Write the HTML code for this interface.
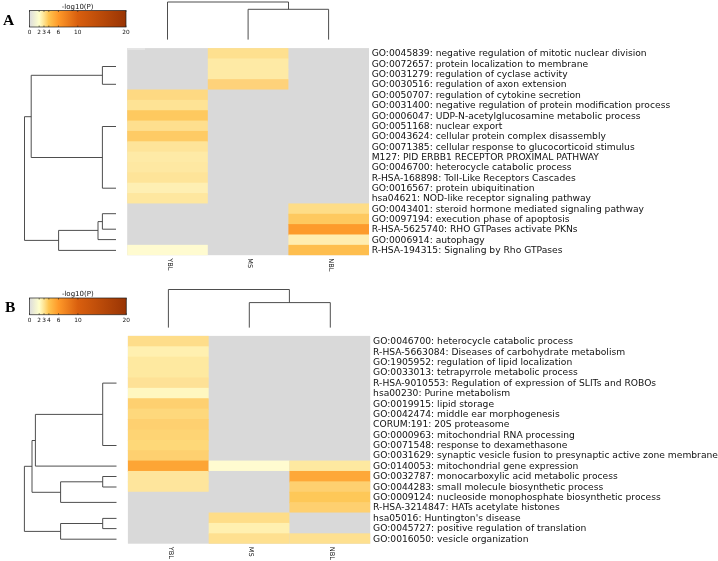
<!DOCTYPE html>
<html><head><meta charset="utf-8"><title>Heatmap</title>
<style>
html,body{margin:0;padding:0;background:#fff;}
body{width:718px;height:561px;overflow:hidden;}
svg{display:block;font-family:"DejaVu Sans","Liberation Sans",sans-serif;}
.pl{font-family:"Liberation Serif",serif;font-weight:bold;font-size:15.5px;}
</style></head><body>
<svg width="718" height="561" viewBox="0 0 718 561">
<defs><linearGradient id="cb" x1="0" x2="1" y1="0" y2="0">
<stop offset="0" stop-color="#dcdcdc"/>
<stop offset="0.10" stop-color="#ffffcc"/>
<stop offset="0.15" stop-color="#fee391"/>
<stop offset="0.20" stop-color="#fec44f"/>
<stop offset="0.30" stop-color="#fe9929"/>
<stop offset="0.50" stop-color="#d95f0e"/>
<stop offset="1" stop-color="#993404"/>
</linearGradient></defs>
<rect width="718" height="561" fill="#fff"/>
<text class="pl" x="3" y="25.4">A</text>
<rect x="29.5" y="10.5" width="96.5" height="16.5" fill="url(#cb)" stroke="#1a1a1a" stroke-opacity="0.75" stroke-width="0.9"/>
<text x="77.65" y="8.70" font-size="7.0" text-anchor="middle" fill="#111">-log10(P)</text>
<path d="M29.50 10.5v1.5M29.50 27.0v-1.5" stroke="#222" stroke-width="0.6"/>
<text x="29.50" y="34.00" font-size="5.8" text-anchor="middle" fill="#111">0</text>
<path d="M39.15 10.5v1.5M39.15 27.0v-1.5" stroke="#222" stroke-width="0.6"/>
<text x="39.15" y="34.00" font-size="5.8" text-anchor="middle" fill="#111">2</text>
<path d="M43.98 10.5v1.5M43.98 27.0v-1.5" stroke="#222" stroke-width="0.6"/>
<text x="43.98" y="34.00" font-size="5.8" text-anchor="middle" fill="#111">3</text>
<path d="M48.80 10.5v1.5M48.80 27.0v-1.5" stroke="#222" stroke-width="0.6"/>
<text x="48.80" y="34.00" font-size="5.8" text-anchor="middle" fill="#111">4</text>
<path d="M58.45 10.5v1.5M58.45 27.0v-1.5" stroke="#222" stroke-width="0.6"/>
<text x="58.45" y="34.00" font-size="5.8" text-anchor="middle" fill="#111">6</text>
<path d="M77.75 10.5v1.5M77.75 27.0v-1.5" stroke="#222" stroke-width="0.6"/>
<text x="77.75" y="34.00" font-size="5.8" text-anchor="middle" fill="#111">10</text>
<path d="M126.00 10.5v1.5M126.00 27.0v-1.5" stroke="#222" stroke-width="0.6"/>
<text x="126.00" y="34.00" font-size="5.8" text-anchor="middle" fill="#111">20</text>
<rect x="127.2" y="48.1" width="241.80" height="207.10" fill="#d9d9d9"/>
<rect x="207.80" y="48.10" width="80.60" height="11.36" fill="#fee08f"/>
<rect x="207.80" y="58.45" width="80.60" height="11.36" fill="#feeaa5"/>
<rect x="207.80" y="68.81" width="80.60" height="11.36" fill="#feeaa5"/>
<rect x="207.80" y="79.17" width="80.60" height="10.36" fill="#fed27a"/>
<rect x="127.20" y="89.52" width="80.60" height="11.36" fill="#fed982"/>
<rect x="127.20" y="99.88" width="80.60" height="11.36" fill="#fee395"/>
<rect x="127.20" y="110.23" width="80.60" height="11.36" fill="#fec95f"/>
<rect x="127.20" y="120.59" width="80.60" height="11.36" fill="#fedf8e"/>
<rect x="127.20" y="130.94" width="80.60" height="11.36" fill="#fecb65"/>
<rect x="127.20" y="141.30" width="80.60" height="11.36" fill="#fee499"/>
<rect x="127.20" y="151.65" width="80.60" height="11.36" fill="#feeaa6"/>
<rect x="127.20" y="162.00" width="80.60" height="11.36" fill="#fee8a2"/>
<rect x="127.20" y="172.36" width="80.60" height="11.36" fill="#fee499"/>
<rect x="127.20" y="182.72" width="80.60" height="11.36" fill="#feefb3"/>
<rect x="127.20" y="193.07" width="80.60" height="10.36" fill="#fee79f"/>
<rect x="288.40" y="203.43" width="80.60" height="11.36" fill="#fedd87"/>
<rect x="288.40" y="213.78" width="80.60" height="11.36" fill="#fec95f"/>
<rect x="288.40" y="224.13" width="80.60" height="11.36" fill="#fd9b2c"/>
<rect x="288.40" y="234.49" width="80.60" height="11.36" fill="#ffedb0"/>
<rect x="127.20" y="244.84" width="80.60" height="10.36" fill="#fffbd0"/>
<rect x="288.40" y="244.84" width="80.60" height="10.36" fill="#febe4e"/>
<g font-size="9.17" fill="#111">
<text x="371.7" y="56.38">GO:0045839: negative regulation of mitotic nuclear division</text>
<text x="371.7" y="66.73">GO:0072657: protein localization to membrane</text>
<text x="371.7" y="77.09">GO:0031279: regulation of cyclase activity</text>
<text x="371.7" y="87.44">GO:0030516: regulation of axon extension</text>
<text x="371.7" y="97.80">GO:0050707: regulation of cytokine secretion</text>
<text x="371.7" y="108.15">GO:0031400: negative regulation of protein modification process</text>
<text x="371.7" y="118.51">GO:0006047: UDP-N-acetylglucosamine metabolic process</text>
<text x="371.7" y="128.86">GO:0051168: nuclear export</text>
<text x="371.7" y="139.22">GO:0043624: cellular protein complex disassembly</text>
<text x="371.7" y="149.57">GO:0071385: cellular response to glucocorticoid stimulus</text>
<text x="371.7" y="159.93">M127: PID ERBB1 RECEPTOR PROXIMAL PATHWAY</text>
<text x="371.7" y="170.28">GO:0046700: heterocycle catabolic process</text>
<text x="371.7" y="180.64">R-HSA-168898: Toll-Like Receptors Cascades</text>
<text x="371.7" y="190.99">GO:0016567: protein ubiquitination</text>
<text x="371.7" y="201.35">hsa04621: NOD-like receptor signaling pathway</text>
<text x="371.7" y="211.70">GO:0043401: steroid hormone mediated signaling pathway</text>
<text x="371.7" y="222.06">GO:0097194: execution phase of apoptosis</text>
<text x="371.7" y="232.41">R-HSA-5625740: RHO GTPases activate PKNs</text>
<text x="371.7" y="242.77">GO:0006914: autophagy</text>
<text x="371.7" y="253.12">R-HSA-194315: Signaling by Rho GTPases</text>
</g>
<text transform="translate(167.80,258.20) rotate(90)" font-size="6.6" fill="#111">YBL</text>
<text transform="translate(248.40,258.20) rotate(90)" font-size="6.6" fill="#111">MS</text>
<text transform="translate(329.00,258.20) rotate(90)" font-size="6.6" fill="#111">NBL</text>
<rect x="127.4" y="48.1" width="17.6" height="1.7" fill="#e6e6e6"/>
<polyline fill="none" stroke="#454545" stroke-width="0.95" points="167.50,39.60 167.50,2.00 288.50,2.00 288.50,9.30"/>
<polyline fill="none" stroke="#454545" stroke-width="0.95" points="248.10,39.60 248.10,9.30 328.60,9.30 328.60,39.60"/>
<polyline fill="none" stroke="#454545" stroke-width="0.95" points="116.00,66.50 102.40,66.50 102.40,84.30 116.00,84.30"/>
<polyline fill="none" stroke="#454545" stroke-width="0.95" points="102.40,75.30 31.20,75.30 31.20,157.50 102.40,157.50"/>
<polyline fill="none" stroke="#454545" stroke-width="0.95" points="116.00,126.50 102.40,126.50 102.40,188.20 116.00,188.20"/>
<polyline fill="none" stroke="#454545" stroke-width="0.95" points="31.20,116.70 24.50,116.70 24.50,240.40 58.60,240.40"/>
<polyline fill="none" stroke="#454545" stroke-width="0.95" points="116.00,250.40 58.60,250.40 58.60,230.40 98.00,230.40"/>
<polyline fill="none" stroke="#454545" stroke-width="0.95" points="116.00,239.60 98.00,239.60 98.00,221.60 102.40,221.60"/>
<polyline fill="none" stroke="#454545" stroke-width="0.95" points="116.00,213.70 102.40,213.70 102.40,229.20 116.00,229.20"/>
<text class="pl" x="5" y="312.2">B</text>
<rect x="29.5" y="298.0" width="96.8" height="16.69999999999999" fill="url(#cb)" stroke="#1a1a1a" stroke-opacity="0.75" stroke-width="0.9"/>
<text x="77.80" y="296.20" font-size="7.0" text-anchor="middle" fill="#111">-log10(P)</text>
<path d="M29.50 298.0v1.5M29.50 314.7v-1.5" stroke="#222" stroke-width="0.6"/>
<text x="29.50" y="321.70" font-size="5.8" text-anchor="middle" fill="#111">0</text>
<path d="M39.18 298.0v1.5M39.18 314.7v-1.5" stroke="#222" stroke-width="0.6"/>
<text x="39.18" y="321.70" font-size="5.8" text-anchor="middle" fill="#111">2</text>
<path d="M44.02 298.0v1.5M44.02 314.7v-1.5" stroke="#222" stroke-width="0.6"/>
<text x="44.02" y="321.70" font-size="5.8" text-anchor="middle" fill="#111">3</text>
<path d="M48.86 298.0v1.5M48.86 314.7v-1.5" stroke="#222" stroke-width="0.6"/>
<text x="48.86" y="321.70" font-size="5.8" text-anchor="middle" fill="#111">4</text>
<path d="M58.54 298.0v1.5M58.54 314.7v-1.5" stroke="#222" stroke-width="0.6"/>
<text x="58.54" y="321.70" font-size="5.8" text-anchor="middle" fill="#111">6</text>
<path d="M77.90 298.0v1.5M77.90 314.7v-1.5" stroke="#222" stroke-width="0.6"/>
<text x="77.90" y="321.70" font-size="5.8" text-anchor="middle" fill="#111">10</text>
<path d="M126.30 298.0v1.5M126.30 314.7v-1.5" stroke="#222" stroke-width="0.6"/>
<text x="126.30" y="321.70" font-size="5.8" text-anchor="middle" fill="#111">20</text>
<rect x="127.9" y="335.9" width="242.30" height="207.80" fill="#d9d9d9"/>
<rect x="127.90" y="335.90" width="80.77" height="11.39" fill="#fedd8a"/>
<rect x="127.90" y="346.29" width="80.77" height="11.39" fill="#fff0b0"/>
<rect x="127.90" y="356.68" width="80.77" height="11.39" fill="#fee9a0"/>
<rect x="127.90" y="367.07" width="80.77" height="11.39" fill="#fee9a0"/>
<rect x="127.90" y="377.46" width="80.77" height="11.39" fill="#fee196"/>
<rect x="127.90" y="387.85" width="80.77" height="11.39" fill="#fff7c0"/>
<rect x="127.90" y="398.24" width="80.77" height="11.39" fill="#fed070"/>
<rect x="127.90" y="408.63" width="80.77" height="11.39" fill="#fed87c"/>
<rect x="127.90" y="419.02" width="80.77" height="11.39" fill="#fed070"/>
<rect x="127.90" y="429.41" width="80.77" height="11.39" fill="#fed474"/>
<rect x="127.90" y="439.80" width="80.77" height="11.39" fill="#fed878"/>
<rect x="127.90" y="450.19" width="80.77" height="11.39" fill="#fed070"/>
<rect x="127.90" y="460.58" width="80.77" height="11.39" fill="#fda535"/>
<rect x="208.67" y="460.58" width="80.77" height="10.39" fill="#fffbd0"/>
<rect x="289.43" y="460.58" width="80.77" height="11.39" fill="#fee9a0"/>
<rect x="127.90" y="470.97" width="80.77" height="11.39" fill="#fee59c"/>
<rect x="289.43" y="470.97" width="80.77" height="11.39" fill="#fea838"/>
<rect x="127.90" y="481.36" width="80.77" height="10.39" fill="#fee59c"/>
<rect x="289.43" y="481.36" width="80.77" height="11.39" fill="#fed070"/>
<rect x="289.43" y="491.75" width="80.77" height="11.39" fill="#fec858"/>
<rect x="289.43" y="502.14" width="80.77" height="10.39" fill="#fed070"/>
<rect x="208.67" y="512.53" width="80.77" height="11.39" fill="#fedd88"/>
<rect x="208.67" y="522.92" width="80.77" height="11.39" fill="#fff0b0"/>
<rect x="208.67" y="533.31" width="80.77" height="10.39" fill="#fee090"/>
<rect x="289.43" y="533.31" width="80.77" height="10.39" fill="#fee090"/>
<g font-size="9.17" fill="#111">
<text x="373.1" y="344.19">GO:0046700: heterocycle catabolic process</text>
<text x="373.1" y="354.58">R-HSA-5663084: Diseases of carbohydrate metabolism</text>
<text x="373.1" y="364.98">GO:1905952: regulation of lipid localization</text>
<text x="373.1" y="375.37">GO:0033013: tetrapyrrole metabolic process</text>
<text x="373.1" y="385.75">R-HSA-9010553: Regulation of expression of SLITs and ROBOs</text>
<text x="373.1" y="396.15">hsa00230: Purine metabolism</text>
<text x="373.1" y="406.54">GO:0019915: lipid storage</text>
<text x="373.1" y="416.93">GO:0042474: middle ear morphogenesis</text>
<text x="373.1" y="427.32">CORUM:191: 20S proteasome</text>
<text x="373.1" y="437.71">GO:0000963: mitochondrial RNA processing</text>
<text x="373.1" y="448.10">GO:0071548: response to dexamethasone</text>
<text x="373.1" y="458.49">GO:0031629: synaptic vesicle fusion to presynaptic active zone membrane</text>
<text x="373.1" y="468.88">GO:0140053: mitochondrial gene expression</text>
<text x="373.1" y="479.27">GO:0032787: monocarboxylic acid metabolic process</text>
<text x="373.1" y="489.66">GO:0044283: small molecule biosynthetic process</text>
<text x="373.1" y="500.05">GO:0009124: nucleoside monophosphate biosynthetic process</text>
<text x="373.1" y="510.44">R-HSA-3214847: HATs acetylate histones</text>
<text x="373.1" y="520.83">hsa05016: Huntington's disease</text>
<text x="373.1" y="531.22">GO:0045727: positive regulation of translation</text>
<text x="373.1" y="541.61">GO:0016050: vesicle organization</text>
</g>
<text transform="translate(168.58,546.70) rotate(90)" font-size="6.6" fill="#111">YBL</text>
<text transform="translate(249.35,546.70) rotate(90)" font-size="6.6" fill="#111">MS</text>
<text transform="translate(330.12,546.70) rotate(90)" font-size="6.6" fill="#111">NBL</text>
<polyline fill="none" stroke="#454545" stroke-width="0.95" points="168.40,327.60 168.40,289.50 289.40,289.50 289.40,302.60"/>
<polyline fill="none" stroke="#454545" stroke-width="0.95" points="249.30,327.60 249.30,302.60 330.30,302.60 330.30,327.60"/>
<polyline fill="none" stroke="#454545" stroke-width="0.95" points="116.50,383.10 102.70,383.10 102.70,445.50 116.50,445.50"/>
<polyline fill="none" stroke="#454545" stroke-width="0.95" points="102.70,414.40 35.40,414.40 35.40,466.10 116.50,466.10"/>
<polyline fill="none" stroke="#454545" stroke-width="0.95" points="35.40,440.50 32.00,440.50 32.00,492.30 60.60,492.30"/>
<polyline fill="none" stroke="#454545" stroke-width="0.95" points="116.50,502.40 60.60,502.40 60.60,481.80 102.70,481.80"/>
<polyline fill="none" stroke="#454545" stroke-width="0.95" points="116.50,476.50 102.70,476.50 102.70,487.00 116.50,487.00"/>
<polyline fill="none" stroke="#454545" stroke-width="0.95" points="32.00,466.30 24.40,466.30 24.40,531.40 60.60,531.40"/>
<polyline fill="none" stroke="#454545" stroke-width="0.95" points="116.50,539.20 60.60,539.20 60.60,523.50 102.70,523.50"/>
<polyline fill="none" stroke="#454545" stroke-width="0.95" points="116.50,518.40 102.70,518.40 102.70,528.60 116.50,528.60"/>
</svg></body></html>
